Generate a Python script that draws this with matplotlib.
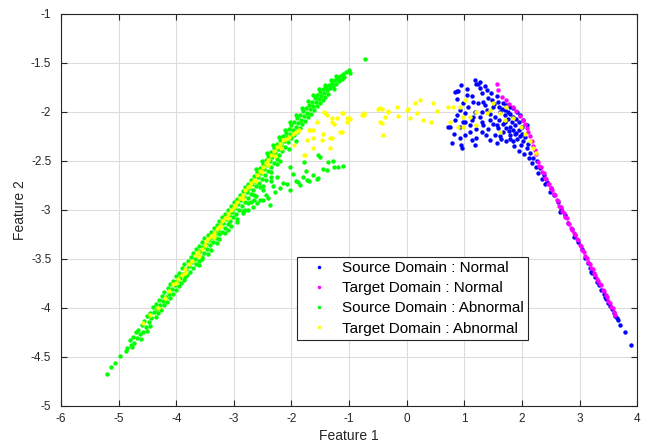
import numpy as np
import matplotlib.pyplot as plt

# Source Domain : Normal  (x, y)
src_normal = np.array([
    (0.95, -1.72), (1.18, -1.67), (1.24, -1.71), (1.27, -1.76), (0.87, -1.79), (1.04, -1.83),
    (1.13, -1.84), (1.30, -1.81), (1.47, -1.81), (1.41, -1.86), (1.56, -1.84), (1.59, -1.90),
    (1.67, -1.91), (1.73, -1.93), (1.79, -1.95), (1.85, -1.96), (1.91, -2.00), (1.96, -2.03),
    (2.02, -2.08), (2.08, -2.13), (1.15, -1.90), (1.24, -1.91), (1.32, -1.90), (0.98, -1.91),
    (1.07, -1.95), (0.93, -1.98), (1.01, -2.01), (1.18, -2.00), (1.30, -2.00), (1.39, -1.98),
    (1.50, -1.95), (1.62, -2.00), (1.70, -2.03), (1.53, -2.05), (1.44, -2.08), (1.30, -2.10),
    (1.13, -2.08), (0.98, -2.10), (0.84, -2.08), (0.75, -2.15), (0.93, -2.15), (1.10, -2.13),
    (1.21, -2.17), (1.41, -2.17), (1.56, -2.13), (1.67, -2.12), (1.79, -2.15), (1.67, -2.20),
    (1.79, -2.23), (1.88, -2.22), (1.96, -2.25), (1.85, -2.30), (1.99, -2.34), (2.08, -2.37),
    (2.14, -2.42), (2.20, -2.47), (1.10, -2.20), (1.01, -2.23), (0.93, -2.27), (1.13, -2.29),
    (1.21, -2.27), (1.44, -2.29), (0.78, -2.32), (0.95, -2.34), (0.96, -2.37), (1.62, -2.25),
    (1.53, -2.23), (1.73, -2.30), (1.30, -2.20), (1.27, -2.05), (1.15, -2.05), (0.72, -2.15),
    (0.87, -2.03), (0.84, -1.80), (0.89, -1.79), (1.21, -1.71), (1.27, -1.69),
    (1.60, -1.95), (1.65, -1.97), (1.70, -1.98), (1.75, -2.00), (1.80, -2.02), (1.85, -2.05),
    (1.90, -2.07), (1.95, -2.10), (2.00, -2.15), (1.60, -2.08), (1.70, -2.10), (1.75, -2.07),
    (1.82, -2.10), (1.88, -2.13), (1.94, -2.18), (2.00, -2.22), (2.05, -2.26), (1.72, -2.16),
    (1.78, -2.19), (1.84, -2.18), (1.90, -2.21), (1.92, -2.28), (2.02, -2.30), (2.10, -2.33),
    (1.80, -2.28), (1.86, -2.35), (1.95, -2.40), (2.04, -2.43), (2.12, -2.47), (2.18, -2.52),
    (2.24, -2.56), (2.28, -2.62), (2.34, -2.68), (2.40, -2.74), (1.48, -1.88), (1.52, -1.92),
    (1.36, -1.93), (1.58, -2.16), (1.50, -2.12), (1.64, -2.28), (1.57, -2.32), (1.38, -2.24),
    (1.33, -2.13), (1.45, -2.02), (1.02, -2.10), (1.18, -2.34), (0.82, -2.22), (0.88, -1.87),
    (1.05, -1.77), (1.35, -1.74), (1.40, -1.78),
    (2.26, -2.50), (2.32, -2.57), (2.38, -2.64), (2.44, -2.71), (2.50, -2.78), (2.56, -2.85),
    (2.62, -2.92), (2.68, -2.99), (2.74, -3.05), (2.80, -3.13), (2.86, -3.19), (2.92, -3.26),
    (2.98, -3.33), (3.04, -3.40), (3.10, -3.49), (3.14, -3.54), (3.18, -3.59), (3.22, -3.64),
    (3.26, -3.68), (3.30, -3.73), (3.34, -3.77), (3.38, -3.82), (3.42, -3.86), (3.46, -3.91),
    (3.50, -3.95), (3.53, -3.98), (3.56, -4.01), (3.59, -4.05), (3.62, -4.08), (3.65, -4.10),
    (3.67, -4.12), (3.71, -4.17), (3.78, -4.24), (3.90, -4.38), (2.48, -2.82), (2.66, -3.02),
    (2.90, -3.28), (3.20, -3.63), (3.44, -3.89),
])

# Target Domain : Normal
tgt_normal = np.array([
    (1.57, -1.71), (1.59, -1.78), (1.66, -1.85), (1.72, -1.88), (1.78, -1.92), (1.84, -1.95),
    (1.90, -1.99), (1.96, -2.04), (2.02, -2.08), (2.05, -2.12), (2.08, -2.16), (2.11, -2.20),
    (2.14, -2.25), (2.17, -2.30), (2.19, -2.35), (2.22, -2.39), (2.25, -2.43),
    (2.28, -2.51), (2.30, -2.55), (2.325, -2.56), (2.35, -2.61), (2.375, -2.62), (2.40, -2.67),
    (2.425, -2.68), (2.45, -2.73), (2.475, -2.74), (2.50, -2.78), (2.525, -2.80), (2.55, -2.84),
    (2.575, -2.85), (2.60, -2.90), (2.625, -2.91), (2.65, -2.96), (2.675, -2.97), (2.70, -3.01),
    (2.725, -3.03), (2.75, -3.07), (2.775, -3.08), (2.80, -3.13), (2.825, -3.14), (2.85, -3.18),
    (2.875, -3.20), (2.90, -3.24), (2.925, -3.26), (2.95, -3.30), (2.975, -3.31), (3.00, -3.36),
    (3.025, -3.37), (3.05, -3.41), (3.075, -3.43), (3.10, -3.47), (3.125, -3.49), (3.15, -3.53),
    (3.175, -3.55), (3.20, -3.59), (3.225, -3.60), (3.25, -3.64), (3.275, -3.66), (3.30, -3.70),
    (3.325, -3.72), (3.35, -3.76), (3.375, -3.77), (3.40, -3.82), (3.425, -3.83), (3.45, -3.87),
    (3.475, -3.89), (3.50, -3.93), (3.525, -3.95), (3.55, -3.99), (3.575, -4.00), (3.60, -4.04),
    (3.62, -4.07),
])

# Source Domain : Abnormal
src_abnormal = np.array([
    (-5.21, -4.67), (-5.14, -4.60), (-5.07, -4.56), (-4.98, -4.49), (-4.88, -4.44), (-4.86, -4.41),
    (-4.80, -4.33), (-4.78, -4.38), (-4.75, -4.30), (-4.73, -4.36), (-4.76, -4.40),
    (-4.70, -4.25), (-4.68, -4.31), (-4.66, -4.22), (-4.63, -4.27), (-4.62, -4.32),
    (-4.60, -4.17), (-4.58, -4.24), (-4.56, -4.13), (-4.53, -4.19), (-4.51, -4.23),
    (-4.50, -4.08), (-4.48, -4.14), (-4.46, -4.18), (-4.45, -4.05), (-4.43, -4.10),
    (-4.41, -3.99), (-4.39, -4.04), (-4.36, -4.09), (-4.35, -3.96), (-4.33, -4.01), (-4.31, -4.05),
    (-4.30, -3.92), (-4.28, -3.97), (-4.26, -4.02), (-4.25, -3.88), (-4.23, -3.93), (-4.21, -3.97),
    (-4.21, -3.84), (-4.18, -3.89), (-4.16, -3.94), (-4.15, -3.80), (-4.13, -3.86), (-4.11, -3.90),
    (-4.10, -3.76), (-4.08, -3.81), (-4.06, -3.86), (-4.05, -3.72), (-4.03, -3.77), (-4.01, -3.82),
    (-4.00, -3.67), (-3.98, -3.72), (-3.96, -3.78), (-3.95, -3.64), (-3.93, -3.69), (-3.91, -3.74),
    (-3.90, -3.59), (-3.88, -3.65), (-3.86, -3.71), (-3.86, -3.55), (-3.83, -3.60), (-3.81, -3.66),
    (-3.84, -3.68), (-3.80, -3.52), (-3.78, -3.57), (-3.76, -3.63), (-3.75, -3.48), (-3.73, -3.53),
    (-3.71, -3.59), (-3.71, -3.44), (-3.68, -3.50), (-3.66, -3.55), (-3.65, -3.40), (-3.63, -3.46),
    (-3.61, -3.52), (-3.60, -3.56), (-3.60, -3.37), (-3.58, -3.42), (-3.56, -3.48), (-3.55, -3.33),
    (-3.53, -3.38), (-3.51, -3.44), (-3.51, -3.29), (-3.48, -3.35), (-3.46, -3.40), (-3.45, -3.45),
    (-3.45, -3.26), (-3.43, -3.31), (-3.41, -3.36), (-3.40, -3.22), (-3.38, -3.28), (-3.36, -3.33),
    (-3.35, -3.18), (-3.33, -3.23), (-3.31, -3.29), (-3.30, -3.34), (-3.30, -3.15), (-3.28, -3.20),
    (-3.26, -3.25), (-3.25, -3.11), (-3.23, -3.16), (-3.21, -3.22), (-3.21, -3.07), (-3.18, -3.13),
    (-3.16, -3.18), (-3.15, -3.24), (-3.15, -3.04), (-3.13, -3.09), (-3.11, -3.14), (-3.10, -3.00),
    (-3.08, -3.05), (-3.06, -3.11), (-3.05, -3.16), (-3.05, -2.96), (-3.03, -3.02), (-3.01, -3.07),
    (-3.00, -2.92), (-2.98, -2.98), (-2.96, -3.04), (-2.95, -3.09), (-2.95, -2.89), (-2.93, -2.94),
    (-2.91, -3.00), (-2.90, -2.85), (-2.88, -2.90), (-2.86, -2.96), (-2.85, -3.01), (-2.85, -2.81),
    (-2.83, -2.86), (-2.81, -2.92), (-2.80, -2.77), (-2.78, -2.82), (-2.76, -2.88), (-2.75, -2.93),
    (-2.75, -2.73), (-2.73, -2.78), (-2.71, -2.84), (-2.70, -2.69), (-2.68, -2.74), (-2.66, -2.80),
    (-2.65, -2.85), (-2.65, -2.65), (-2.63, -2.70), (-2.61, -2.76), (-2.60, -2.61), (-2.58, -2.66),
    (-2.56, -2.72), (-2.55, -2.77), (-2.55, -2.57), (-2.53, -2.62), (-2.51, -2.68), (-2.50, -2.53),
    (-2.48, -2.58), (-2.46, -2.64), (-2.45, -2.69), (-2.45, -2.49), (-2.43, -2.54), (-2.41, -2.60),
    (-2.40, -2.45), (-2.38, -2.50), (-2.36, -2.56), (-2.35, -2.61), (-2.35, -2.41), (-2.33, -2.46),
    (-2.31, -2.52), (-2.30, -2.37), (-2.28, -2.42), (-2.26, -2.48), (-2.25, -2.53), (-2.25, -2.33),
    (-2.23, -2.38), (-2.21, -2.44), (-2.20, -2.29), (-2.18, -2.34), (-2.16, -2.40), (-2.15, -2.25),
    (-2.13, -2.30), (-2.11, -2.36), (-2.10, -2.21), (-2.08, -2.26), (-2.06, -2.31), (-2.05, -2.17),
    (-2.03, -2.22), (-2.01, -2.27), (-2.00, -2.13), (-1.98, -2.18), (-1.96, -2.24), (-1.95, -2.10),
    (-1.93, -2.15), (-1.91, -2.20), (-1.90, -2.06), (-1.88, -2.11), (-1.86, -2.16), (-1.85, -2.03),
    (-1.83, -2.08), (-1.81, -2.12), (-1.80, -1.99), (-1.78, -2.04), (-1.76, -2.09), (-1.75, -1.96),
    (-1.73, -2.01), (-1.71, -2.05), (-1.70, -1.93), (-1.68, -1.97), (-1.66, -2.02), (-1.65, -1.90),
    (-1.63, -1.94), (-1.61, -1.98), (-1.60, -1.86), (-1.58, -1.90), (-1.56, -1.94), (-1.55, -1.83),
    (-1.53, -1.87), (-1.51, -1.91), (-1.50, -1.80), (-1.48, -1.84), (-1.46, -1.88), (-1.45, -1.77),
    (-1.43, -1.81), (-1.41, -1.85), (-1.40, -1.75), (-1.38, -1.78), (-1.36, -1.82), (-1.35, -1.72),
    (-1.33, -1.76), (-1.30, -1.70), (-1.28, -1.73), (-1.26, -1.77), (-1.25, -1.67), (-1.23, -1.71),
    (-1.20, -1.65), (-1.18, -1.68), (-1.15, -1.63), (-1.13, -1.66), (-1.10, -1.61), (-1.08, -1.64),
    (-1.05, -1.59), (-1.00, -1.57), (-0.98, -1.60), (-0.72, -1.46),
    # upper-left edge of the band
    (-2.62, -2.58), (-2.52, -2.50), (-2.42, -2.42), (-2.32, -2.34), (-2.22, -2.26), (-2.12, -2.18),
    (-2.02, -2.10), (-1.92, -2.03), (-1.82, -1.96), (-1.72, -1.89), (-1.62, -1.83), (-1.52, -1.77),
    (-1.42, -1.72), (-1.32, -1.67), (-1.22, -1.63),
    # lower-right edge of the band
    (-3.55, -3.50), (-3.40, -3.41), (-3.25, -3.30), (-3.10, -3.20), (-2.95, -3.12), (-2.80, -3.00),
    (-2.65, -2.90), (-2.50, -2.76), (-2.35, -2.66), (-2.20, -2.50), (-2.05, -2.38), (-1.92, -2.30),
    # lower branch
    (-2.84, -3.03), (-2.75, -3.00), (-2.66, -2.97), (-2.60, -2.93), (-2.54, -2.90), (-2.45, -2.85),
    (-2.40, -2.88), (-2.32, -2.76), (-2.28, -2.82), (-2.20, -2.78), (-2.15, -2.72), (-2.08, -2.73),
    (-2.02, -2.80), (-1.97, -2.63), (-1.92, -2.70), (-1.85, -2.75), (-1.80, -2.66), (-1.75, -2.60),
    (-1.70, -2.70), (-1.62, -2.64), (-1.55, -2.68), (-1.50, -2.46), (-1.45, -2.58), (-1.39, -2.59),
    (-1.36, -2.51), (-1.28, -2.50), (-1.27, -2.56), (-1.19, -2.56), (-1.10, -2.55), (-1.79, -2.51),
    (-2.50, -2.80), (-2.62, -2.86), (-2.70, -2.92), (-2.35, -2.70), (-2.25, -2.66), (-2.02, -2.56),
    (-1.54, -2.44), (-1.54, -2.67), (-1.73, -2.69), (-1.88, -2.71), (-2.37, -2.95), (-2.49, -2.90),
])

# Target Domain : Abnormal
tgt_abnormal = np.array([
    (-4.57, -4.15), (-4.45, -4.07), (-4.32, -4.00), (-4.20, -3.90), (-4.12, -3.83), (-4.05, -3.76),
    (-3.97, -3.70), (-3.90, -3.66), (-3.84, -3.60), (-3.78, -3.55), (-3.72, -3.52), (-3.66, -3.46),
    (-3.62, -3.43), (-3.56, -3.40), (-3.50, -3.36), (-3.45, -3.30), (-3.40, -3.27), (-3.35, -3.24),
    (-3.30, -3.19), (-3.25, -3.17), (-3.20, -3.11), (-3.15, -3.08), (-3.10, -3.04), (-3.05, -3.00),
    (-3.00, -2.97), (-2.95, -2.92), (-2.90, -2.88), (-2.85, -2.85), (-2.80, -2.80), (-2.75, -2.77),
    (-2.70, -2.72), (-2.65, -2.69), (-2.60, -2.64), (-2.55, -2.60), (-2.50, -2.56), (-2.45, -2.52),
    (-2.40, -2.49), (-2.35, -2.44), (-2.30, -2.40), (-2.25, -2.36), (-2.20, -2.33), (-2.15, -2.29),
    (-2.10, -2.28), (-2.05, -2.26), (-1.98, -2.22), (-1.92, -2.20), (-1.87, -2.18),
    (-3.60, -3.47), (-3.35, -3.28), (-3.10, -3.08), (-2.85, -2.89), (-2.62, -2.70), (-2.40, -2.54),
    (-2.18, -2.37), (-3.85, -3.64), (-4.00, -3.74), (-3.48, -3.32), (-3.22, -3.16), (-2.98, -2.95),
    (-2.72, -2.76), (-2.52, -2.61), (-2.28, -2.45),
    # scattered to the right of the band
    (-1.41, -2.01), (-1.30, -2.06), (-1.27, -2.12), (-1.13, -2.01), (-1.21, -2.06), (-1.04, -2.06),
    (-0.98, -2.07), (-1.16, -2.20), (-1.30, -2.27), (-1.45, -2.22), (-1.62, -2.27), (-1.62, -2.18),
    (-1.73, -2.29), (-1.70, -2.18), (-1.79, -2.44), (-1.62, -2.37), (-0.75, -2.01), (-0.75, -2.03),
    (-0.49, -1.97), (-0.43, -1.97), (-0.32, -2.00), (-0.17, -1.95), (-0.43, -2.11), (-0.38, -2.05),
    (-0.41, -2.23), (-0.15, -2.04), (0.03, -1.97), (0.14, -1.91), (0.06, -2.06), (0.17, -2.01),
    (0.23, -1.88), (0.46, -1.91), (0.52, -1.99), (0.43, -2.10), (0.29, -2.08), (0.00, -1.98),
    (0.72, -1.95), (0.81, -1.95), (0.92, -1.95), (0.98, -2.05), (0.75, -2.10), (0.89, -2.15),
    (-0.46, -2.10), (-0.46, -1.96), (-0.32, -1.99), (-0.78, -2.03), (-1.01, -2.06), (-1.04, -2.10),
    (-1.30, -2.10), (-1.13, -2.20), (-1.33, -2.27), (-1.44, -2.00), (-1.39, -2.03), (-1.10, -2.01),
    (-1.47, -2.29), (-1.68, -2.18), (-1.33, -2.37), (-1.56, -2.10), (-1.76, -2.44), (-1.96, -2.34),
    # inside the normal cluster
    (1.10, -2.05), (1.21, -2.00), (1.39, -2.01), (1.44, -1.98), (1.62, -2.01), (1.73, -1.95),
    (1.85, -2.06), (1.99, -2.15), (1.70, -2.08), (1.62, -2.20), (1.50, -1.91), (1.01, -1.88),
    (1.21, -2.13), (0.98, -2.15), (2.05, -2.22), (2.14, -2.30), (2.20, -2.37), (2.25, -2.42),
])

labels = ['Source Domain : Normal', 'Target Domain : Normal',
          'Source Domain : Abnormal', 'Target Domain : Abnormal']
colors = ['#0000ff', '#ff00ff', '#00ff00', '#ffff00']

plt.rcParams['font.family'] = ['Liberation Sans', 'DejaVu Sans']
plt.rcParams['axes.unicode_minus'] = False

fig = plt.figure(figsize=(6.54, 4.46), dpi=100)
ax = fig.add_axes([0.0933, 0.0897, 0.881, 0.879])

for pts, c, lab in zip([src_normal, tgt_normal, src_abnormal, tgt_abnormal], colors, labels):
    ax.plot(pts[:, 0], pts[:, 1], '.', color=c, markersize=4.3, label=lab)

ax.set_xlim(-6, 4)
ax.set_ylim(-5, -1)
ax.set_xticks(np.arange(-6, 5, 1))
ax.set_yticks(np.arange(-5, -0.9, 0.5))
ax.xaxis.set_major_formatter(plt.FormatStrFormatter('%g'))
ax.yaxis.set_major_formatter(plt.FormatStrFormatter('%g'))
ax.grid(True, color='#dcdcdc', linewidth=0.8)
ax.set_axisbelow(True)
ax.tick_params(direction='in', top=True, right=True, labelsize=8.5, length=4,
               colors='#262626', width=0.8)
ax.tick_params(axis='y', pad=7)
ax.tick_params(axis='x', pad=5)
for s in ax.spines.values():
    s.set_color('#262626')
    s.set_linewidth(0.8)

ax.set_xlabel('Feature 1', fontsize=10, color='#262626', labelpad=3)
ax.set_ylabel('Feature 2', fontsize=10, color='#262626', labelpad=3)

leg = ax.legend(loc='lower left', bbox_to_anchor=(0.41, 0.168), fontsize=11,
                fancybox=False, edgecolor='#262626', framealpha=1,
                borderpad=0.3, labelspacing=0.4, handlelength=2.27, handletextpad=0.37,
                borderaxespad=0, markerscale=0.7)
leg.get_frame().set_linewidth(0.8)

plt.savefig('out.png', dpi=100)
